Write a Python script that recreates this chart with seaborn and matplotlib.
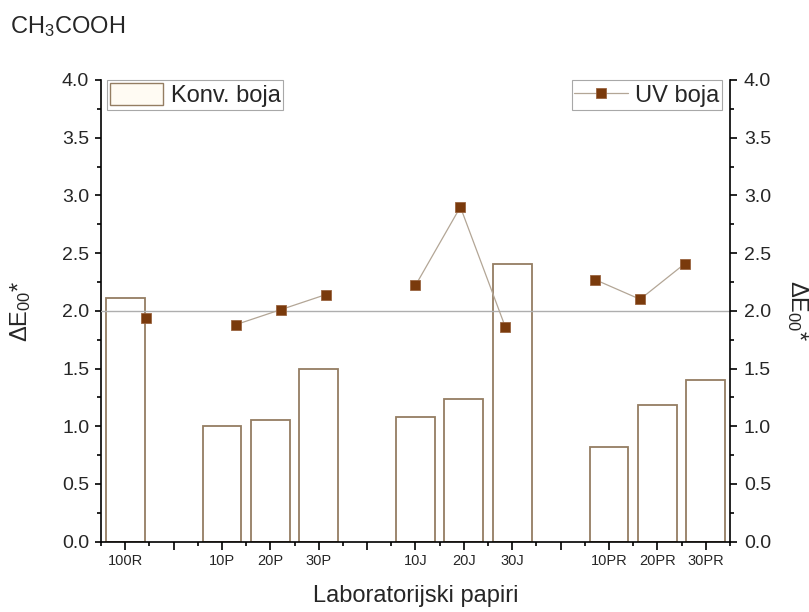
import numpy as np
import pandas as pd
import matplotlib
matplotlib.use("Agg")
import matplotlib.pyplot as plt
import seaborn as sns
from matplotlib.patches import Patch
from matplotlib.lines import Line2D
from matplotlib.ticker import MultipleLocator

# categories ('' = empty slot between the groups)
papiri = ["100R", "", "10P", "20P", "30P", "", "10J", "20J", "30J", "", "10PR", "20PR", "30PR"]
grupa = ["R", None, "P", "P", "P", None, "J", "J", "J", None, "PR", "PR", "PR"]
konv_boja = [2.11, np.nan, 1.00, 1.05, 1.50, np.nan, 1.08, 1.24, 2.41, np.nan, 0.82, 1.18, 1.40]
uv_boja = [1.94, np.nan, 1.88, 2.01, 2.14, np.nan, 2.22, 2.90, 1.86, np.nan, 2.27, 2.10, 2.41]
prag = 2.0

sns.set_style("ticks")
plt.rcParams['font.family'] = ['Liberation Sans', 'DejaVu Sans']
plt.rcParams['mathtext.fontset'] = 'custom'
plt.rcParams['mathtext.rm'] = 'Liberation Sans'
plt.rcParams['mathtext.it'] = 'Liberation Sans:italic'
plt.rcParams['mathtext.bf'] = 'Liberation Sans:bold'

bar_edge = "#947D62"
line_c = "#B3A696"
mk_c = "#7A3A0C"
mk_edge = "#9A6440"

df = pd.DataFrame({"papir": papiri, "grupa": grupa, "konv": konv_boja, "uv": uv_boja})
df["poz"] = np.arange(1, len(df) + 1)

fig = plt.figure(figsize=(8.09, 6.12), dpi=100)
rect = [0.1248, 0.1149, 0.7775, 0.7544]
ax = fig.add_axes(rect)
ax2 = fig.add_axes(rect, facecolor="none")

# bars (left axis)
sns.barplot(data=df.dropna(subset=["konv"]), x="poz", y="konv", native_scale=True,
            width=0.8, color="white", saturation=1, edgecolor=bar_edge, linewidth=1.3,
            ax=ax, zorder=2)
ax.axhline(prag, color="#AEAEAE", lw=1.0, zorder=3)

ax.set_xlim(0.5, 13.5)
ax.set_ylim(0, 4)
ax.set_xticks(df["poz"])
ax.set_xticklabels(papiri)
ax.xaxis.set_minor_locator(MultipleLocator(0.5))
ax.yaxis.set_major_locator(MultipleLocator(0.5))
ax.yaxis.set_minor_locator(MultipleLocator(0.25))
ax.tick_params(axis="x", which="major", length=6, width=1.2, labelsize=10.5, pad=3, color="black")
ax.tick_params(axis="x", which="minor", length=3, width=1.2, color="black")
ax.tick_params(axis="y", which="major", length=4.5, width=1.2, labelsize=14, pad=4, color="black")
ax.tick_params(axis="y", which="minor", length=3, width=1.2, color="black")
for s in ["top", "right"]:
    ax.spines[s].set_visible(False)
for s in ["left", "bottom"]:
    ax.spines[s].set_linewidth(1.2)
    ax.spines[s].set_color("black")
ax.set_xlabel("Laboratorijski papiri", fontsize=17, labelpad=12)
ax.set_ylabel("ΔE$_{00}$*", fontsize=17)
ax.yaxis.set_label_coords(-0.108, 0.5)

# points + lines (right axis, own x scale)
sns.lineplot(data=df.dropna(subset=["uv"]), x="poz", y="uv", units="grupa", estimator=None,
             color=line_c, lw=0.9, marker="s", markersize=7.5, markerfacecolor=mk_c,
             markeredgecolor=mk_edge, markeredgewidth=0.6, ax=ax2, legend=False, zorder=4)
ax2.set_xlim(0, 14)
ax2.set_ylim(0, 4)
ax2.xaxis.set_visible(False)
ax2.yaxis.tick_right()
ax2.yaxis.set_label_position("right")
ax2.yaxis.set_major_locator(MultipleLocator(0.5))
ax2.yaxis.set_minor_locator(MultipleLocator(0.25))
ax2.tick_params(axis="y", which="major", length=5, width=1.2, labelsize=14, pad=5, color="black")
ax2.tick_params(axis="y", which="minor", length=3, width=1.2, color="black")
for s in ["top", "left", "bottom"]:
    ax2.spines[s].set_visible(False)
ax2.spines["right"].set_linewidth(1.2)
ax2.spines["right"].set_color("black")
ax2.set_xlabel("")
ax2.set_ylabel("ΔE$_{00}$*", fontsize=17, rotation=270, va="center")
ax2.yaxis.set_label_coords(1.107, 0.5)

leg_kw = dict(fontsize=17, frameon=True, fancybox=False, framealpha=1, edgecolor="#A8A8A8",
              borderaxespad=0, borderpad=0.12, handlelength=2.25, handleheight=1.1,
              handletextpad=0.33)
h1 = Patch(facecolor="#FFFBF3", edgecolor=bar_edge, linewidth=1.0)
leg1 = ax2.legend([h1], ["Konv. boja"], loc="upper left", bbox_to_anchor=(0.0095, 1.0), **leg_kw)
leg1.get_frame().set_linewidth(0.8)
ax2.add_artist(leg1)
h2 = Line2D([], [], color=line_c, lw=0.9, marker="s", markersize=7.5, markerfacecolor=mk_c,
            markeredgecolor=mk_edge, markeredgewidth=0.6)
leg2 = ax2.legend([h2], ["UV boja"], loc="upper right", bbox_to_anchor=(0.988, 1.0), **leg_kw)
leg2.get_frame().set_linewidth(0.8)

fig.text(0.012, 1 - 33 / 612, "CH$_3$COOH", fontsize=17, va="baseline")

fig.savefig("out.png", dpi=100, facecolor="white")
